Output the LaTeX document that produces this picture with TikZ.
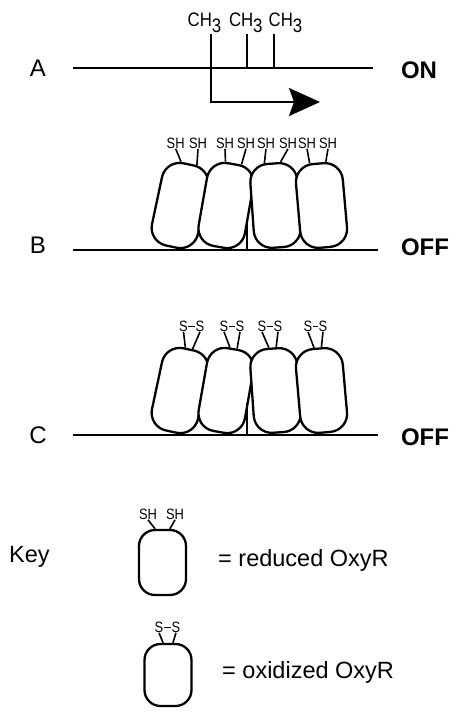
\documentclass[tikz,border=0pt]{standalone}
\usepackage{fontspec}
\setmainfont{Liberation Sans}
\usetikzlibrary{calc,arrows.meta}
\newcommand{\narrow}[1]{\scalebox{0.86}[1]{#1}}
\begin{document}
\begin{tikzpicture}[x=1pt,y=-1pt,
  dna/.style={line width=2pt},
  oxy/.style={draw, line width=2.3pt, rounded corners=18pt, minimum width=47pt, minimum height=84pt, fill=white, inner sep=0pt},
  keyoxy/.style={draw, line width=2.3pt, rounded corners=16pt, minimum width=47pt, minimum height=65pt, fill=white, inner sep=0pt},
  lab/.style={font=\fontsize{24}{24}\selectfont, inner sep=0pt},
  state/.style={font=\fontsize{24}{24}\selectfont\bfseries, inner sep=0pt},
  methyl/.style={font=\fontsize{19.5}{19.5}\selectfont, inner sep=0pt, anchor=base},
  sh/.style={font=\fontsize{15}{15}\selectfont, inner sep=0.3pt},
  stalk/.style={line width=1.6pt},
  bond/.style={line width=0.5pt},
  txt/.style={font=\fontsize{23.5}{23.5}\selectfont, inner sep=0pt, anchor=west}
]
\useasboundingbox (0,0) rectangle (460,716);

% ---------------- Panel A
\node[lab] (A) at (38,68) {A};
\coordinate (a1) at (73,68);
\coordinate (a2) at (373,68);
\draw[dna] (a1) -- (a2);
\node[state] (on) at (419,70) {ON};
\node[methyl] (m1) at (204.5,26) {\narrow{CH\raisebox{-6pt}{3}}};
\node[methyl] (m2) at (245.8,26) {\narrow{CH\raisebox{-6pt}{3}}};
\node[methyl] (m3) at (285.5,26) {\narrow{CH\raisebox{-6pt}{3}}};
\coordinate (t1) at (211,34);
\coordinate (t2) at (247,34);
\coordinate (t2b) at (247,68);
\coordinate (t3) at (274,34);
\coordinate (t3b) at (274,68);
\coordinate (bend) at (211,102);
\coordinate (tip) at (320,102);
\draw[dna] (t2) -- (t2b);
\draw[dna] (t3) -- (t3b);
\draw[dna,-{Stealth[length=31pt,width=28pt,inset=5pt]}] (t1) -- (bend) -- (tip);

% ---------------- Panel B
\node[lab] (B) at (38,245) {B};
\coordinate (b1) at (73,250);
\coordinate (b2) at (378,250);
\draw[dna] (b1) -- (b2);
\node[state] (offb) at (425,247) {OFF};
\node[oxy,rotate=-12] (bo1) at (180,205.5) {};
\node[oxy,rotate=-10] (bo2) at (226,205.5) {};
\node[oxy,rotate=4] (bo3) at (275.5,205.5) {};
\node[oxy,rotate=5] (bo4) at (321.5,205.5) {};
\coordinate (bt) at (247,220);
\coordinate (btb) at (247,250);
\draw[dna] (bt) -- (btb);
\foreach \o/\xl/\xr/\n in {bo1/175.7/198/1, bo2/225/246/2, bo3/266/288/3, bo4/307/328/4}{
  \node[sh] (bshl\n) at (\xl,143) {\narrow{SH}};
  \node[sh] (bshr\n) at (\xr,143) {\narrow{SH}};
  \draw[stalk] (bshl\n.south) -- ($(\o.north)!0.33!(\o.north west)$);
  \draw[stalk] (bshr\n.south) -- ($(\o.north)!0.33!(\o.north east)$);
}

% ---------------- Panel C
\node[lab] (C) at (38,435) {C};
\coordinate (c1) at (73,435);
\coordinate (c2) at (378,435);
\draw[dna] (c1) -- (c2);
\node[state] (offc) at (425,437) {OFF};
\node[oxy,rotate=-12] (co1) at (180,390.5) {};
\node[oxy,rotate=-10] (co2) at (226,390.5) {};
\node[oxy,rotate=4] (co3) at (275.5,390.5) {};
\node[oxy,rotate=5] (co4) at (321.5,390.5) {};
\coordinate (ct) at (247,403);
\coordinate (ctb) at (247,435);
\draw[dna] (ct) -- (ctb);
\foreach \o/\xl/\xr/\n in {co1/183.5/200/1, co2/224/240/2, co3/262/278/3, co4/308/323/4}{
  \node[sh] (csl\n) at (\xl,326) {\narrow{S}};
  \node[sh] (csr\n) at (\xr,326) {\narrow{S}};
  \draw[bond] (csl\n.east) -- (csr\n.west);
  \draw[stalk] (csl\n.south) -- ($(\o.north)!0.15!(\o.north west)$);
  \draw[stalk] (csr\n.south) -- ($(\o.north)!0.15!(\o.north east)$);
}

% ---------------- Key
\node[txt] (key) at (9,557) {Key};
\node[keyoxy] (kr) at (162.5,562.5) {};
\node[sh] (kshl) at (148,514) {\narrow{SH}};
\node[sh] (kshr) at (175,514) {\narrow{SH}};
\draw[stalk] (kshl.south) -- ($(kr.north)!0.3!(kr.north west)$);
\draw[stalk] (kshr.south) -- ($(kr.north)!0.3!(kr.north east)$);
\node[txt] (tr) at (218,560) {= reduced OxyR};

\node[keyoxy, minimum height=62pt] (ko) at (168,675) {};
\node[sh] (ksl) at (159,627) {\narrow{S}};
\node[sh] (ksr) at (176,627) {\narrow{S}};
\draw[bond] (ksl.east) -- (ksr.west);
\draw[stalk] (ksl.south) -- ($(ko.north)!0.2!(ko.north west)$);
\draw[stalk] (ksr.south) -- ($(ko.north)!0.2!(ko.north east)$);
\node[txt] (to) at (222,672) {= oxidized OxyR};
\end{tikzpicture}
\end{document}
